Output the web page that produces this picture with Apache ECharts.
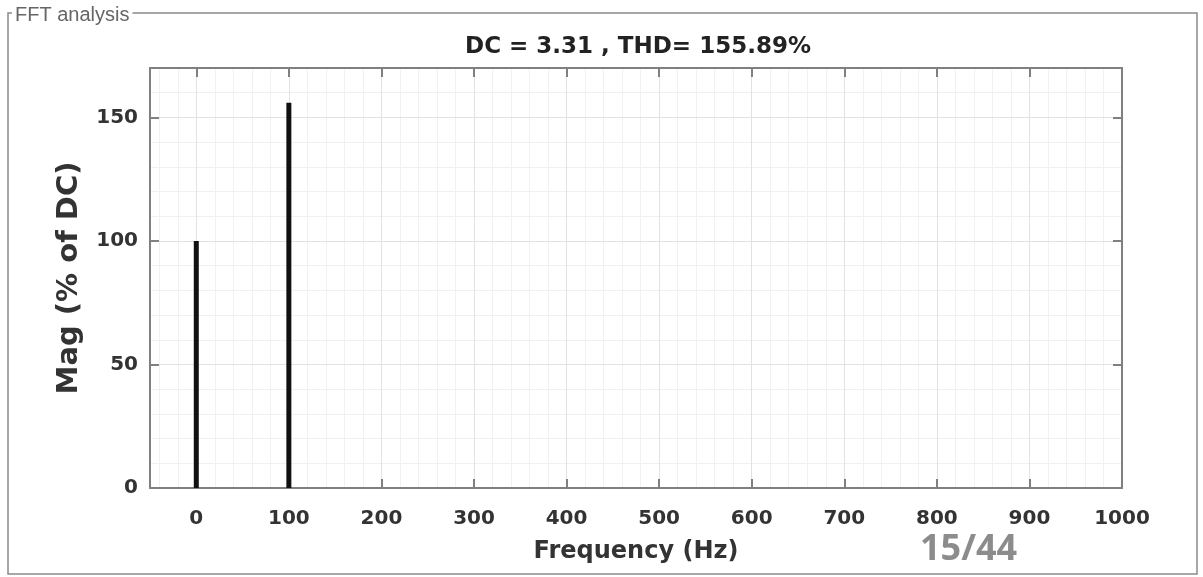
<!DOCTYPE html>
<html><head><meta charset="utf-8">
<script src="https://cdn.jsdelivr.net/npm/echarts@6/dist/echarts.min.js"></script>
<style>html,body{margin:0;padding:0;background:#fff}#c{width:1203px;height:577px}</style>
</head><body><div id="c"></div>
<script>
var frequencies = [0, 100];
var magnitudes = [100, 155.89];
var xTicks = [0,100,200,300,400,500,600,700,800,900,1000];
var yTicks = [0,50,100,150];
var xMinorTicks = [-40,-20,20,40,60,80,120,140,160,180,220,240,260,280,320,340,360,380,420,440,460,480,520,540,560,580,620,640,660,680,720,740,760,780,820,840,860,880,920,940,960,980];
var yMinorTicks = [10,20,30,40,60,70,80,90,110,120,130,140,160,170];
var titleText = 'DC = 3.31 , THD= 155.89%';

var chart = echarts.init(document.getElementById('c'));
var axisCol = '#808080';
var txtCol = '#333';
var font = 'DejaVu Sans';

var option = {
  animation: false,
  backgroundColor: '#fff',
  title: {text: titleText, left: 633, top: 31, textAlign: 'center',
    textStyle: {fontFamily: font, fontWeight: 'bold', fontSize: 23, color: '#222'}},
  grid: {left: 150, right: 81, top: 68, bottom: 89},
  xAxis: [
    {type: 'value', position: 'bottom', min: -50, max: 1000,
      axisLine: {show: true, onZero: false, lineStyle: {color: axisCol, width: 2}},
      axisTick: {show: true, inside: true, length: 9, customValues: xTicks, lineStyle: {color: axisCol, width: 2}},
      axisLabel: {customValues: xTicks, color: txtCol, fontFamily: font, fontWeight: 'bold', fontSize: 20, margin: 21,
        formatter: function (v) { return String(v); }},
      splitLine: {show: true, lineStyle: {color: '#e2e2e2', width: 1}},
      name: 'Frequency (Hz)', nameLocation: 'middle', nameGap: 52,
      nameTextStyle: {color: txtCol, fontFamily: font, fontWeight: 'bold', fontSize: 24}, z: 5},
    {type: 'value', position: 'top', min: -50, max: 1000,
      axisLine: {show: true, onZero: false, lineStyle: {color: axisCol, width: 2}},
      axisTick: {show: true, inside: true, length: 9, customValues: xTicks, lineStyle: {color: axisCol, width: 2}},
      axisLabel: {show: false}, splitLine: {show: false}, z: 5},
    {type: 'value', position: 'bottom', min: -50, max: 1000,
      axisLine: {show: false, onZero: false}, axisTick: {show: false, customValues: xMinorTicks},
      axisLabel: {show: false, customValues: xMinorTicks},
      splitLine: {show: true, lineStyle: {color: '#f1f1f1', width: 1}}, z: 0}
  ],
  yAxis: [
    {type: 'value', position: 'left', min: 0, max: 170,
      axisLine: {show: true, onZero: false, lineStyle: {color: axisCol, width: 2}},
      axisTick: {show: true, inside: true, length: 9, customValues: yTicks, lineStyle: {color: axisCol, width: 2}},
      axisLabel: {customValues: yTicks, color: txtCol, fontFamily: font, fontWeight: 'bold', fontSize: 20, margin: 12},
      splitLine: {show: true, lineStyle: {color: '#e2e2e2', width: 1}},
      name: 'Mag (% of DC)', nameLocation: 'middle', nameGap: 66, nameRotate: 90,
      nameTextStyle: {color: txtCol, fontFamily: font, fontWeight: 'bold', fontSize: 29}, z: 5},
    {type: 'value', position: 'right', min: 0, max: 170,
      axisLine: {show: true, onZero: false, lineStyle: {color: axisCol, width: 2}},
      axisTick: {show: true, inside: true, length: 9, customValues: yTicks, lineStyle: {color: axisCol, width: 2}},
      axisLabel: {show: false}, splitLine: {show: false}, z: 5},
    {type: 'value', position: 'left', min: 0, max: 170,
      axisLine: {show: false, onZero: false}, axisTick: {show: false, customValues: yMinorTicks},
      axisLabel: {show: false, customValues: yMinorTicks},
      splitLine: {show: true, lineStyle: {color: '#f1f1f1', width: 1}}, z: 0}
  ],
  series: [{
    type: 'bar', xAxisIndex: 0, yAxisIndex: 0, barWidth: 5, z: 10,
    itemStyle: {color: '#111'},
    data: frequencies.map(function (f, i) { return [f, magnitudes[i]]; })
  }],
  graphic: [
    {type: 'rect', shape: {x: 8, y: 13, width: 1189, height: 561},
      style: {fill: 'none', stroke: '#8a8a8a', lineWidth: 1.5}, z: -10},
    {type: 'text', left: 12, top: 5, z: 10,
      style: {text: 'FFT analysis', fill: '#666', font: '20px "Liberation Sans"',
        backgroundColor: '#fff', padding: [0, 3, 0, 3]}},
    {type: 'text', left: 920, top: 532, z: 10,
      style: {text: '15/44', fill: '#8c8c8c', font: 'bold 36px "Open Sans"'}}
  ]
};
chart.setOption(option);
</script></body></html>
